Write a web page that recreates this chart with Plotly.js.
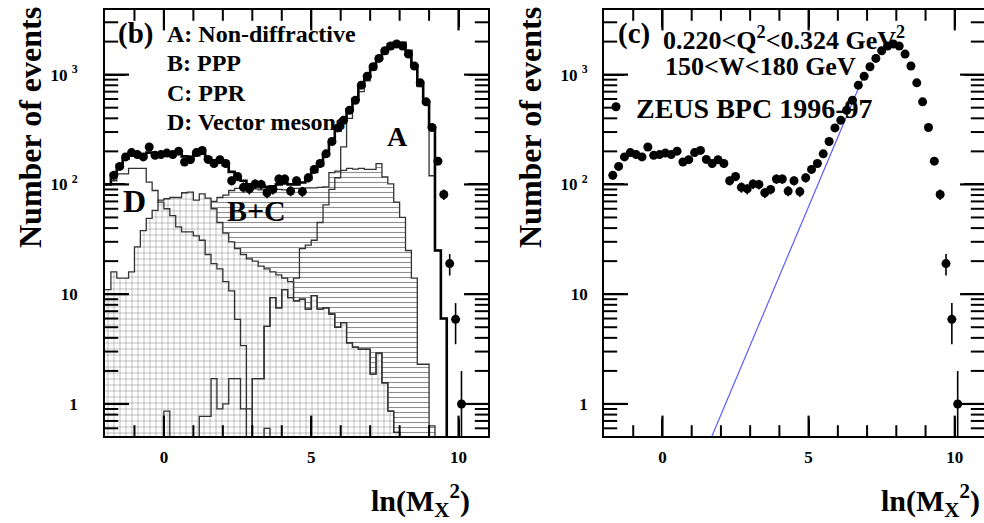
<!DOCTYPE html>
<html><head><meta charset="utf-8">
<script src="https://cdn.plot.ly/plotly-3.0.1.min.js"></script>
<style>html,body{margin:0;padding:0;background:#fff;overflow:hidden}#chart{width:984px;height:523px}</style>
</head><body><div id="chart"></div>
<script>
// ---------- data ----------
const binEdges = [-2.0,-1.8,-1.6,-1.4,-1.2,-1.0,-0.8,-0.6,-0.4,-0.2,0.0,0.2,0.4,0.6,0.8,1.0,1.2,1.4,1.6,1.8,2.0,2.2,2.4,2.6,2.8,3.0,3.2,3.4,3.6,3.8,4.0,4.2,4.4,4.6,4.8,5.0,5.2,5.4,5.6,5.8,6.0,6.2,6.4,6.6,6.8,7.0,7.2,7.4,7.6,7.8,8.0,8.2,8.4,8.6,8.8,9.0,9.2,9.4,9.6,9.8,10.0];

const dataX = [-1.7,-1.5,-1.3,-1.1,-0.9,-0.7,-0.5,-0.3,-0.1,0.1,0.3,0.5,0.7,0.9,1.1,1.3,1.5,1.7,1.9,2.1,2.3,2.5,2.7,2.9,3.1,3.3,3.5,3.7,3.9,4.1,4.3,4.5,4.7,4.9,5.1,5.3,5.5,5.7,5.9,6.1,6.3,6.5,6.7,6.9,7.1,7.3,7.5,7.7,7.9,8.1,8.3,8.5,8.7,8.9,9.1,9.3,9.5,9.7,9.9,10.1];
const dataY = [121,146,178,195,187,178,219,184,187,193,187,201,160,168,195,204,169,155,168,155,108,118,94,91,101,100,84,90,112,112,87,108,86,115,137,155,190,246,327,384,474,585,802,968,1180,1406,1650,1820,1900,1820,1540,1200,842,565,330,163,81,19,5.9,1.0];
const dataErr = [11,12,13,14,14,13,15,14,14,14,14,14,13,13,14,14,13,12,13,12,10,11,10,10,10,10,9,9,11,11,9,10,9,11,12,12,14,16,18,20,22,24,28,31,34,37,41,43,44,43,39,35,29,24,18,13,9,4.2,2.4,1.0];

const histTotal = [100,125,150,172,185,190,185,195,190,185,188,185,190,180,175,185,190,175,165,160,150,130,118,108,100,100,98,95,96,100,102,100,100,104,112,130,150,185,240,310,390,480,600,780,950,1150,1400,1650,1900,1950,1950,1650,1200,800,560,330,25,6,0,0];
const histA = [0,0,0,0,0,0,0,0,0,0,0,0,0,0,0,0,0,0,0,0,0,0,0,0,0,1.7,1.7,5.1,9.3,7.5,11,9.3,14,26,28,31,45,65,90,115,220,400,560,700,880,1100,1350,1550,1800,1920,1900,1620,1180,780,540,120,25,6,0,0];
const histBC = [0,0,0,0,0,0,0,0,0,0,0,0,0,0,0,0,0,0,70,76,80,88,92,90,90,91,89,90,92,90,89,91,92,90,93,93,94,95,128,132,134,140,138,140,137,137,155,117,101,69,50,25,14,2.3,2.3,0.63,0,0,0,0];
const histGrid = [11,16,14,14,16,27,38,49,58,72,74,76,76,84,85,72,82,75,60,45,36,30,26,23,21,20,18,17,16,15,14,13,8.7,9.0,7.3,9.7,7.3,7.5,6.6,5.0,5.5,3.6,3.3,3.15,3.15,1.87,2.9,1.56,0.86,0.55,0,0,0,0,0,0,0,0,0,0];
const histGrid2 = [0,0,0,0,0,0,0,0,0,0,0,0,0,0,0,0,0,0,0,0,0,0,0,0,0,1.7,1.7,5.1,9.3,7.5,11,9.3,8.7,9.0,7.3,9.7,7.3,7.5,6.6,5.0,5.5,3.6,3.3,3.15,3.15,1.87,2.9,1.56,0.86,0.55,0,0,0,0,0,0,0,0,0,0];
const histD = [100,108,125,125,140,140,140,105,88,69,60,52,41,37,37,34,31,23,19,17,13,10.7,5.9,3.4,0.9,0,0,0,0,0,0,0,0,0,0,0,0,0,0,0,0,0,0,0,0,0,0,0,0,0,0,0,0,0,0,0,0,0,0,0];
const histE = [0,0,0,0,0,0,0,0,0,0,0.86,0,0,0,0,0,0.77,0.77,1.7,0.9,1.0,1.7,1.7,0.9,0,0,0,0.6,0,0,0,0,0,0,0,0,0,0,0,0,0,0,0,0,0,0,0,0,0,0,0,0,0,0,0,0,0,0,0,0];

const fitX = [1.68, 6.82];
const fitY = [0.5, 891];

const xTickVals = [0,5,10], xTickText = ['0','5','10'];
const xMinorVals = [-1,1,2,3,4,6,7,8,9];
const yTickVals = [1,10,100,1000], yTickText = ['1','10','10 <sup>2</sup>','10 <sup>3</sup>'];
const yMinorVals = [0.6,0.7,0.8,0.9,2,3,4,5,6,7,8,9,20,30,40,50,60,70,80,90,200,300,400,500,600,700,800,900,2000,3000];

// ---------- drawing ----------
const F = '"Liberation Serif","Times New Roman",serif';
const FLOOR = 0.05;
const X_RANGE = [-2, 11];
const Y_LOGRANGE = [-0.292, 3.589];
function step(vals){
  const xs=[], ys=[];
  for(let i=0;i<vals.length;i++){ xs.push(binEdges[i]); ys.push(vals[i]>0?vals[i]:FLOOR); }
  xs.push(binEdges[vals.length]); ys.push(FLOOR);
  return {xs, ys};
}
function base(){ return {x:[binEdges[0],binEdges[binEdges.length-1]], y:[FLOOR,FLOOR], mode:'lines', line:{width:0}, showlegend:false, hoverinfo:'skip', xaxis:'x', yaxis:'y'}; }
function hist(vals, opts){
  const s = step(vals);
  return Object.assign({x:s.xs, y:s.ys, mode:'lines', line:{shape:'hv', color:'#333', width:1.3}, showlegend:false, hoverinfo:'skip', xaxis:'x', yaxis:'y'}, opts);
}

// inward tick marks on the four frame sides, drawn as line-shaped markers
const plotHpx = 426;
function tickMarks(xa, ya, widthPx, xv, yv, xlen, ylen, w){
  const half = (Y_LOGRANGE[1]-Y_LOGRANGE[0]) * (xlen/2) / plotHpx;
  const halfX = (X_RANGE[1]-X_RANGE[0]) * (ylen/2) / widthPx;
  const xx=[], xy=[], yx=[], yy=[];
  xv.forEach(v=>{ xx.push(v, v); xy.push(Math.pow(10, Y_LOGRANGE[0]+half), Math.pow(10, Y_LOGRANGE[1]-half)); });
  yv.forEach(v=>{ yx.push(X_RANGE[0]+halfX, X_RANGE[1]-halfX); yy.push(v, v); });
  return [
    {x:xx, y:xy, mode:'markers', marker:{symbol:'line-ns', size:xlen, color:'#000', line:{color:'#000', width:w}},
      showlegend:false, hoverinfo:'skip', xaxis:xa, yaxis:ya},
    {x:yx, y:yy, mode:'markers', marker:{symbol:'line-ew', size:ylen, color:'#000', line:{color:'#000', width:w}},
      showlegend:false, hoverinfo:'skip', xaxis:xa, yaxis:ya}
  ];
}

const hatchCol = '#8f8f8f';
const traces = [
  base(),
  hist(histBC, {fill:'tonexty', fillcolor:'white', fillpattern:{shape:'-', size:5, solidity:0.22, fgcolor:hatchCol, bgcolor:'white'}}),
  base(),
  hist(histGrid, {fill:'tonexty', fillcolor:'white', fillpattern:{shape:'+', size:6, solidity:0.18, fgcolor:hatchCol, bgcolor:'white'}}),
  hist(histGrid2, {}),
  hist(histE, {}),
  hist(histD, {}),
  hist(histA, {}),
  hist(histTotal, {line:{shape:'hv', color:'#000', width:2.6}}),
  ...tickMarks('x','y',383, xTickVals, yTickVals, 17, 20, 2.2),
  ...tickMarks('x','y',383, xMinorVals, yMinorVals, 9, 11, 2),
  {x:dataX, y:dataY, mode:'markers', marker:{color:'#000', size:9}, error_y:{type:'data', array:dataErr, color:'#000', thickness:1.6, width:0}, showlegend:false, xaxis:'x', yaxis:'y', hoverinfo:'skip'},
  ...tickMarks('x2','y2',380, xTickVals, yTickVals, 17, 20, 2.2),
  ...tickMarks('x2','y2',380, xMinorVals, yMinorVals, 9, 11, 2),
  {x:fitX, y:fitY, mode:'lines', line:{color:'#5b5bff', width:1.2}, showlegend:false, xaxis:'x2', yaxis:'y2', hoverinfo:'skip'},
  {x:dataX, y:dataY, mode:'markers', name:'ZEUS BPC 1996-97', marker:{color:'#000', size:9}, error_y:{type:'data', array:dataErr, color:'#000', thickness:1.6, width:0}, showlegend:true, xaxis:'x2', yaxis:'y2', hoverinfo:'skip'}
];

const W=984, H=523;
function px(x){return x/W;} function py(y){return 1-y/H;}
const yDom = [py(436), py(10)];
const tf = {family:F, size:17, weight:'bold', color:'#000'};
function xMain(domain, anchor){
  return {domain, anchor, range:X_RANGE.slice(), tickmode:'array', tickvals:xTickVals, ticktext:xTickText,
    ticks:'inside', ticklen:17, tickwidth:2, tickcolor:'#000', showline:true, linecolor:'#000', linewidth:1.6, mirror:'ticks',
    showgrid:false, zeroline:false, tickfont:tf, ticklabelstandoff:5};
}
function yMain(anchor, standoff){
  return {domain:yDom, anchor, type:'log', range:Y_LOGRANGE.slice(), tickmode:'array', tickvals:yTickVals, ticktext:yTickText,
    ticks:'inside', ticklen:20, tickwidth:2, tickcolor:'#000', showline:true, linecolor:'#000', linewidth:1.6, mirror:'ticks',
    showgrid:false, zeroline:false, tickfont:tf, ticklabelstandoff:standoff};
}
function ann(text, x, y, size, o){
  return Object.assign({text, x:px(x), y:py(y), xref:'paper', yref:'paper', showarrow:false, xanchor:'center', yanchor:'middle',
    font:{family:F, size, weight:'bold', color:'#000'}}, o||{});
}
const annotations = [
  ann('(b)', 135, 34, 29),
  ann('A: Non-diffractive', 165, 34, 24, {xanchor:'left'}),
  ann('B: PPP', 165, 63, 24, {xanchor:'left'}),
  ann('C: PPR', 165, 93, 24, {xanchor:'left'}),
  ann('D: Vector mesons', 165, 122, 24, {xanchor:'left'}),
  ann('A', 397, 136, 28),
  ann('D', 134, 201, 32),
  ann('B+C', 256, 210, 30),
  ann('Number of events', 30, 128, 32, {textangle:-90}),
  ann('Number of events', 530, 128, 32, {textangle:-90}),
  ann('ln(M<sub>X</sub><sup>2</sup>)', 472, 500, 30, {xanchor:'right'}),
  ann('ln(M<sub>X</sub><sup>2</sup>)', 982, 500, 30, {xanchor:'right'}),
  ann('(c)', 634, 33, 29),
  ann('0.220&lt;Q<sup>2</sup>&lt;0.324 GeV<sup>2</sup>', 661, 38, 26, {xanchor:'left'}),
  ann('150&lt;W&lt;180 GeV', 663, 66, 26, {xanchor:'left'})
];
const layout = {
  width:W, height:H, margin:{l:0,r:0,t:0,b:0}, paper_bgcolor:'#fff', plot_bgcolor:'#fff',
  font:{family:F, color:'#000'},
  xaxis:xMain([px(105), px(488)], 'y'), yaxis:yMain('x', 22),
  xaxis2:xMain([px(604), 1], 'y2'), yaxis2:yMain('x2', 11),
  showlegend:true,
  legend:{x:px(596), y:py(107), xanchor:'left', yanchor:'middle', bgcolor:'rgba(0,0,0,0)', borderwidth:0,
    font:{family:F, size:28, weight:'bold', color:'#000'}, itemwidth:30},
  annotations
};
Plotly.newPlot('chart', traces, layout, {displayModeBar:false});
</script></body></html>
